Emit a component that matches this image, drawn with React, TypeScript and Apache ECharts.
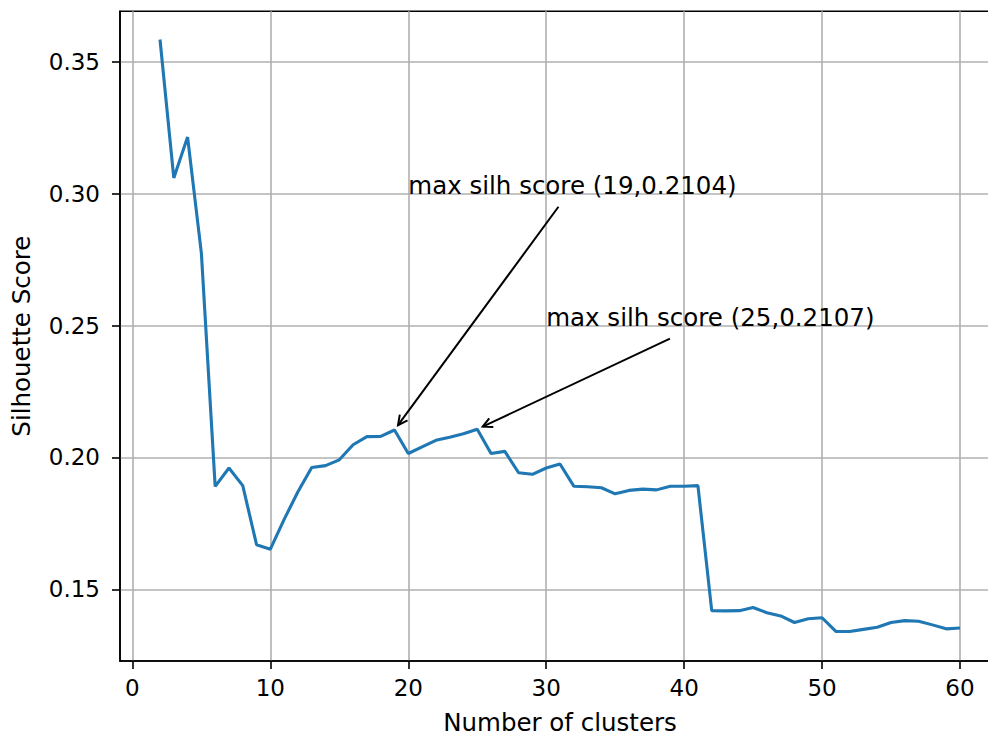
import React, { useEffect, useRef } from "react";
import * as echarts from "echarts";

const clusters = [
  2, 3, 4, 5, 6, 7, 8, 9, 10, 11, 12, 13, 14, 15, 16, 17, 18, 19, 20, 21,
  22, 23, 24, 25, 26, 27, 28, 29, 30, 31, 32, 33, 34, 35, 36, 37, 38, 39, 40, 41,
  42, 43, 44, 45, 46, 47, 48, 49, 50, 51, 52, 53, 54, 55, 56, 57, 58, 59, 60,
];
const silhouette = [
  0.3585, 0.306, 0.3215, 0.2775, 0.189, 0.196, 0.1893, 0.1669, 0.1652, 0.1765,
  0.187, 0.1962, 0.1969, 0.1991, 0.2048, 0.2079, 0.208, 0.2104, 0.2015, 0.204,
  0.2065, 0.2077, 0.209, 0.2107, 0.2015, 0.2023, 0.1942, 0.1936, 0.196, 0.1975,
  0.1891, 0.1889, 0.1885, 0.1862, 0.1875, 0.188, 0.1877, 0.1891, 0.1891, 0.1893,
  0.1419, 0.1418, 0.1419, 0.1431, 0.1411, 0.1399, 0.1374, 0.1388, 0.1392, 0.134,
  0.134, 0.1348, 0.1356, 0.1374, 0.1381, 0.1379, 0.1365, 0.135, 0.1353,
];
const xTicks = [0, 10, 20, 30, 40, 50, 60];
const yTicks = [0.15, 0.2, 0.25, 0.3, 0.35];
// annotations: text anchor (x, y) and pointed value (x, y)
const annTextX = [20, 30];
const annTextY = [0.3, 0.25];
const annPointX = [19, 25];
const annPointY = [0.2104, 0.2107];
const annLabels = ["max silh score (19,0.2104)", "max silh score (25,0.2107)"];

const FONT = "DejaVu Sans";
const TICK_FS = 23;
const LABEL_FS = 24.5;

export default function App() {
  const ref = useRef<HTMLDivElement>(null);
  useEffect(() => {
    if (!ref.current) return;
    const chart = echarts.init(ref.current, undefined, { renderer: "svg" });
    const canvas = document.createElement("canvas");
    const ctx = canvas.getContext("2d")!;
    ctx.font = `${LABEL_FS}px "${FONT}"`;

    const annData = annLabels.map((_, i) => [annTextX[i], annTextY[i], annPointX[i], annPointY[i], i]);

    const option: any = {
      animation: false,
      backgroundColor: "#fff",
      grid: {
        left: 120,
        top: 11.3,
        width: 880,
        height: 655.4,
        show: true,
        borderColor: "#000",
        borderWidth: 1.6,
        backgroundColor: "transparent",
      },
      xAxis: {
        type: "value",
        min: -0.9,
        max: 62.9,
        name: "Number of clusters",
        nameLocation: "middle",
        nameGap: 49,
        nameTextStyle: { color: "#000", fontFamily: FONT, fontSize: LABEL_FS },
        axisLine: { show: true, onZero: false, lineStyle: { color: "#000", width: 1.6 } },
        axisTick: { show: true, length: 8, customValues: xTicks, lineStyle: { color: "#000", width: 1.6 } },
        axisLabel: {
          customValues: xTicks,
          margin: 15,
          color: "#000",
          fontFamily: FONT,
          fontSize: TICK_FS,
          formatter: (v: number) => String(v),
        },
        splitLine: { show: true, lineStyle: { color: "#b0b0b0", width: 1.6 } },
      },
      yAxis: {
        type: "value",
        min: 0.1228,
        max: 0.3692,
        name: "Silhouette Score",
        nameLocation: "middle",
        nameRotate: 90,
        nameGap: 86,
        nameTextStyle: { color: "#000", fontFamily: FONT, fontSize: LABEL_FS },
        axisLine: { show: true, onZero: false, lineStyle: { color: "#000", width: 1.6 } },
        axisTick: { show: true, length: 8, customValues: yTicks, lineStyle: { color: "#000", width: 1.6 } },
        axisLabel: {
          customValues: yTicks,
          margin: 20,
          color: "#000",
          fontFamily: FONT,
          fontSize: TICK_FS,
          formatter: (v: number) => v.toFixed(2),
        },
        splitLine: { show: true, lineStyle: { color: "#b0b0b0", width: 1.6 } },
      },
      series: [
        {
          type: "line",
          data: clusters.map((c, i) => [c, silhouette[i]]),
          showSymbol: false,
          lineStyle: { color: "#1f77b4", width: 3.1 },
          z: 3,
        },
        {
          type: "custom",
          coordinateSystem: "cartesian2d",
          clip: false,
          encode: { x: [0, 2], y: [1, 3] },
          data: annData,
          z: 4,
          renderItem: (params: any, api: any) => {
            const idx = api.value(4);
            const label = annLabels[idx];
            const a = api.coord([api.value(0), api.value(1)]);
            const p = api.coord([api.value(2), api.value(3)]);
            const w = ctx.measureText(label).width;
            const cx = a[0] + w / 2;
            const cy = a[1] - 6;
            const dx = p[0] - cx;
            const dy = p[1] - cy;
            const len = Math.sqrt(dx * dx + dy * dy);
            const ux = dx / len;
            const uy = dy / len;
            const startY = a[1] + 13;
            const t = (startY - cy) / uy;
            const sx = cx + ux * t;
            const sy = startY;
            const ex = p[0] - ux * 6;
            const ey = p[1] - uy * 6;
            const hl = 9.5;
            const hw = 4.8;
            const px = -uy;
            const py = ux;
            const h1 = [ex - ux * hl + px * hw, ey - uy * hl + py * hw];
            const h2 = [ex - ux * hl - px * hw, ey - uy * hl - py * hw];
            return {
              type: "group",
              children: [
                {
                  type: "text",
                  x: a[0],
                  y: a[1] - 0.346 * LABEL_FS,
                  style: {
                    text: label,
                    fill: "#000",
                    font: `${LABEL_FS}px "${FONT}"`,
                    align: "left",
                    verticalAlign: "middle",
                  },
                },
                {
                  type: "line",
                  shape: { x1: sx, y1: sy, x2: ex, y2: ey },
                  style: { stroke: "#000", lineWidth: 2 },
                },
                {
                  type: "polyline",
                  shape: { points: [h1, [ex, ey], h2] },
                  style: { stroke: "#000", lineWidth: 2, fill: null },
                },
              ],
            };
          },
        },
      ],
    };
    chart.setOption(option);
    return () => chart.dispose();
  }, []);
  return (
    <div
      ref={ref}
      style={{ position: "fixed", left: 0, top: 0, width: 1012, height: 740, background: "#fff" }}
    />
  );
}
